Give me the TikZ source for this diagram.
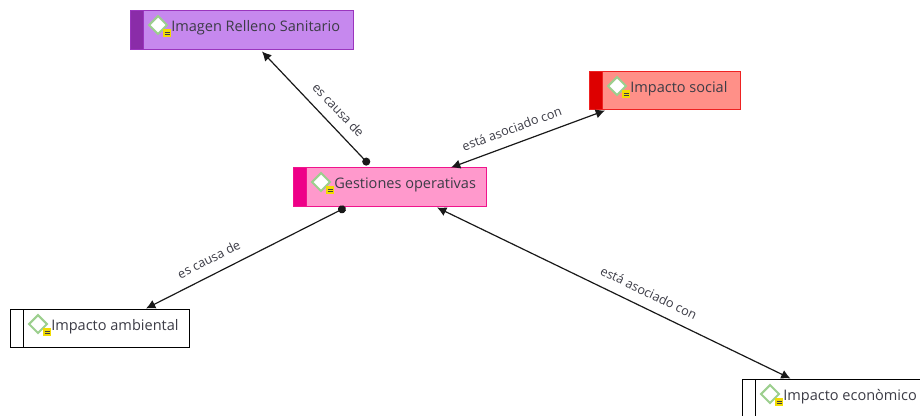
\documentclass[tikz,border=0pt]{standalone}
\usepackage{fontspec}
\setmainfont{Open Sans}
\usetikzlibrary{arrows.meta,shapes.geometric}
\definecolor{inkgray}{HTML}{3C3C46}
\definecolor{purpleBg}{HTML}{C688EE}
\definecolor{purpleBd}{HTML}{9A35BE}
\definecolor{purpleSt}{HTML}{8A2CA8}
\definecolor{pinkBg}{HTML}{FF99CC}
\definecolor{pinkBd}{HTML}{F0148C}
\definecolor{pinkSt}{HTML}{EE0088}
\definecolor{redBg}{HTML}{FF9088}
\definecolor{redBd}{HTML}{EE2222}
\definecolor{redSt}{HTML}{DD0000}
\definecolor{iconGreen}{HTML}{9CCF8E}
\definecolor{iconYellow}{HTML}{F2DC00}
\tikzset{
  conceptbox/.style={rectangle, draw, line width=0.7pt, inner sep=0pt, outer sep=0pt, anchor=north west},
  conceptlabel/.style={anchor=west, inner sep=0pt, text=inkgray, font=\fontsize{10.9}{13}\selectfont},
  linklabel/.style={sloped, above, inner sep=7.5pt, text=inkgray, font=\fontsize{9.5}{11}\selectfont},
  iconmark/.style={diamond, draw=iconGreen, fill=white, line width=1.5pt, inner sep=0pt, minimum size=14pt},
  iconnote/.style={rectangle, fill=iconYellow, inner sep=0pt, minimum size=5.8pt},
  assoc/.style={{Latex[length=7pt,width=7pt]}-{Latex[length=7pt,width=7pt]}, line width=0.9pt, black!90},
  cause/.style={{Latex[length=7pt,width=7pt]}-{Circle[length=6pt]}, line width=0.9pt, black!90}
}
\begin{document}
\begin{tikzpicture}[x=0.75pt, y=-0.75pt]
\clip[use as bounding box] (0,0) rectangle (920,415);
% boxes: name/left/top/width/height/fill/border/strip/text
\foreach \nm/\lx/\ty/\bw/\bh/\cbg/\cbd/\cst/\txt in {
  imagen/130.5/10.5/223/39/purpleBg/purpleBd/purpleSt/Imagen Relleno Sanitario,
  social/589.5/71.5/151/38/redBg/redBd/redSt/Impacto social,
  gestiones/293.5/167.5/193/39/pinkBg/pinkBd/pinkSt/Gestiones operativas,
  ambiental/10.5/309.5/179/38/white/black/white/Impacto ambiental,
  economico/742.5/379.5/186/60/white/black/white/Impacto econòmico}
{
  \node[conceptbox, fill=\cbg, draw=\cbd, minimum width=\bw*0.75pt, minimum height=\bh*0.75pt] (\nm) at (\lx,\ty) {};
  \filldraw[fill=\cst, draw=\cbd, line width=0.7pt] (\lx,\ty) rectangle (\lx+12.5,\ty+\bh);
  \node[iconmark] (\nm-mark) at (\lx+27.5,\ty+14.5) {};
  \node[iconnote] (\nm-note) at (\lx+36.5,\ty+22.5) {};
  \draw[inkgray, line width=0.4pt] (\lx+34,\ty+21.5) -- (\lx+39,\ty+21.5) (\lx+34,\ty+23.5) -- (\lx+39,\ty+23.5);
  \node[conceptlabel] (\nm-txt) at (\lx+40.5,\ty+17.5) {\txt};
}
\draw[cause] ([shift={(20,2)}]imagen.south) -- node[linklabel, pos=0.61] {es causa de} ([shift={(-21,-3)}]gestiones.north);
\draw[assoc] ([shift={(61,0)}]gestiones.north) -- node[linklabel, pos=0.43] {está asociado con} ([shift={(-60,1)}]social.south);
\draw[cause] ([shift={(46,-1)}]ambiental.north) -- node[linklabel, pos=0.35] {es causa de} ([shift={(-44.5,1)}]gestiones.south);
\draw[assoc] ([shift={(47,1)}]gestiones.south) -- node[linklabel, pos=0.58] {está asociado con} ([shift={(-45,-1)}]economico.north);
\end{tikzpicture}
\end{document}
